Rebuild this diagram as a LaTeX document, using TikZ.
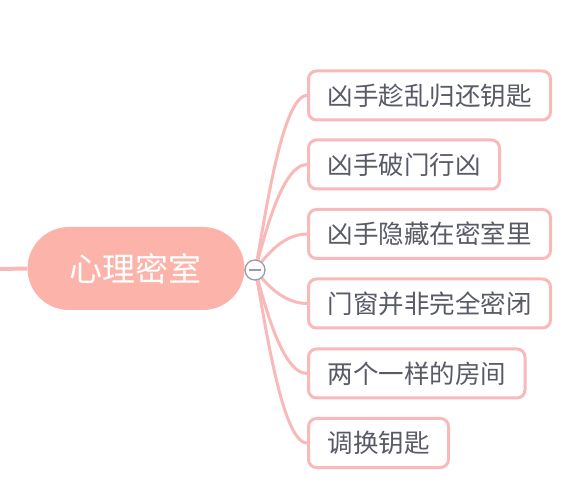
\documentclass[tikz,border=0pt]{standalone}
\usepackage{fontspec}
\setmainfont{Noto Sans CJK SC}
\usetikzlibrary{backgrounds}
\definecolor{mainfill}{RGB}{252,180,170}
\definecolor{linkpink}{RGB}{250,185,185}
\definecolor{txtgray}{RGB}{88,90,102}
\definecolor{knobgray}{RGB}{150,155,172}
\begin{document}
\begin{tikzpicture}[x=1pt,y=-1pt,
  topic/.style={draw=linkpink,line width=3pt,fill=white,rounded corners=8pt,
    anchor=west,minimum height=49pt,inner xsep=19pt,inner ysep=0pt,
    text=txtgray,font=\fontsize{25.5}{25.5}\selectfont},
  link/.style={draw=linkpink,line width=3pt,line cap=round},
  knob/.style={draw=knobgray,line width=1.3pt,fill=white,circle,minimum size=20pt,inner sep=0pt},
  central/.style={fill=mainfill,rounded corners=41.5pt,minimum width=217pt,
    minimum height=83pt,inner sep=0pt,text=white,font=\fontsize{33}{33}\selectfont}]
\useasboundingbox (0,0) rectangle (566,500);
\coordinate (lft) at (0,269);
\node[central] (c) at (136,268.5) {心理密室};
\node[knob] (kn) at (255,270) {};
\draw[knobgray,line width=1.3pt] ([xshift=-6pt]kn.center) -- ([xshift=6pt]kn.center);
\node[topic] (b1) at (307,95.5) {凶手趁乱归还钥匙};
\node[topic] (b2) at (307,164.5) {凶手破门行凶};
\node[topic] (b3) at (307,234) {凶手隐藏在密室里};
\node[topic] (b4) at (307,303.5) {门窗并非完全密闭};
\node[topic] (b5) at (307,373.5) {两个一样的房间};
\node[topic] (b6) at (307,443) {调换钥匙};
\begin{scope}[on background layer]
\draw[link,line width=4pt,line cap=butt] (lft) -- (c.west);
\foreach \b/\d in {b1/-29,b2/-22,b3/-8,b4/8,b5/22,b6/29}{
  \draw[link] (kn.center) .. controls +(7,\d) and +(-27,0) .. (\b.west);
}
\end{scope}
\end{tikzpicture}
\end{document}
